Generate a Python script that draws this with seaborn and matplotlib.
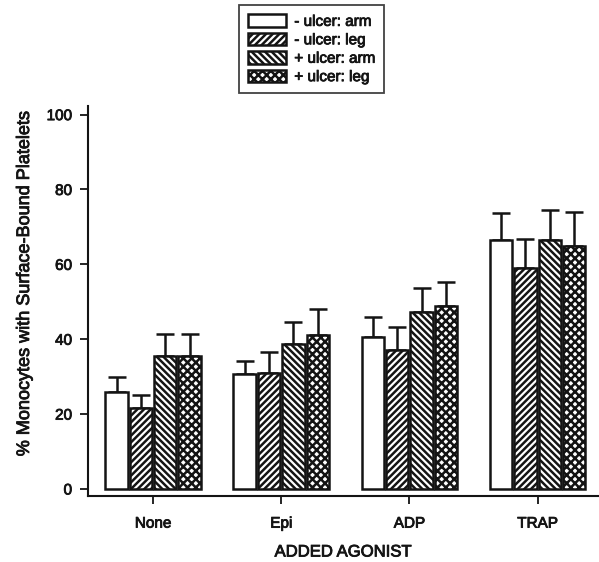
import matplotlib
matplotlib.use("Agg")
import matplotlib.pyplot as plt
import matplotlib.patheffects as pe
import numpy as np
import pandas as pd
import seaborn as sns

agonists = ["None", "Epi", "ADP", "TRAP"]
groups = ["- ulcer: arm", "- ulcer: leg", "+ ulcer: arm", "+ ulcer: leg"]

neg_arm = [26.0, 30.7, 40.7, 66.6]
neg_leg = [21.7, 31.1, 37.2, 58.9]
pos_arm = [35.6, 38.7, 47.3, 66.6]
pos_leg = [35.4, 41.0, 48.9, 65.0]

neg_arm_err = [4.0, 3.5, 5.2, 7.1]
neg_leg_err = [3.4, 5.6, 6.2, 7.9]
pos_arm_err = [5.8, 5.9, 6.4, 7.9]
pos_leg_err = [6.0, 7.1, 6.4, 8.9]

yticks = [0, 20, 40, 60, 80, 100]

series = [neg_arm, neg_leg, pos_arm, pos_leg]
errors = [neg_arm_err, neg_leg_err, pos_arm_err, pos_leg_err]
hatches = ["", "/////", "\\" * 5, "xxxx"]
INK = "#141414"

df = pd.DataFrame({
    "agonist": np.tile(agonists, len(groups)),
    "group": np.repeat(groups, len(agonists)),
    "value": np.concatenate(series),
})

sns.set_style("ticks")
plt.rcParams["font.family"] = ["Liberation Sans", "DejaVu Sans"]
plt.rcParams["hatch.linewidth"] = 1.8
plt.rcParams["hatch.color"] = INK

fig = plt.figure(figsize=(5.99, 5.62), dpi=100)
ax = fig.add_axes([0.147, 0.1166, 0.851, 0.6948])

sns.barplot(
    data=df, x="agonist", y="value", hue="group",
    order=agonists, hue_order=groups,
    palette=["white"] * 4, edgecolor=INK, linewidth=1.8,
    width=0.76, gap=0.08, errorbar=None, ax=ax, zorder=2,
)

# hatch + one-sided (upper) error bars per series
bar_containers = list(ax.containers)
for gi, cont in enumerate(bar_containers):
    xs = []
    for patch in cont:
        patch.set_hatch(hatches[gi])
        xs.append(patch.get_x() + patch.get_width() / 2)
    errs = errors[gi]
    ax.errorbar(xs, series[gi], yerr=[np.zeros(len(errs)), errs], fmt="none",
                ecolor=INK, elinewidth=1.8, capsize=6.5, capthick=1.8,
                zorder=1)

ax.set_ylim(-2.0, 102.3)
ax.set_xlim(-0.507, 3.47)
ax.set_yticks(yticks)
ax.set_yticklabels([str(t) for t in yticks])
ax.tick_params(axis="both", direction="out", length=6, width=1.3,
               color=INK, labelsize=11, labelcolor=INK)
ax.tick_params(axis="y", pad=5.5)
ax.tick_params(axis="x", pad=8.5)
for side in ["left", "bottom"]:
    ax.spines[side].set_linewidth(1.5)
    ax.spines[side].set_color(INK)
sns.despine(ax=ax)

ax.set_ylabel("% Monocytes with Surface-Bound Platelets", fontsize=13, color=INK)
ax.yaxis.set_label_coords(-0.108, 0.544)
ax.set_xlabel("ADDED AGONIST", fontsize=12, color=INK, labelpad=10)

handles, labels = ax.get_legend_handles_labels()
for h, hat in zip(handles, hatches):
    h.set_hatch(hat)
leg = ax.legend(handles, labels, loc="upper center", bbox_to_anchor=(0.520, 0.991),
                bbox_transform=fig.transFigure, borderaxespad=0, frameon=True,
                fancybox=False, edgecolor=INK, fontsize=11, handlelength=2.5,
                handleheight=0.9, labelspacing=0.25, handletextpad=0.55,
                borderpad=0.6)
leg.get_frame().set_linewidth(1.3)

# slightly heavier text, like the printed original
thick = [pe.withStroke(linewidth=0.6, foreground=INK)]
texts = (ax.get_xticklabels() + ax.get_yticklabels() + leg.get_texts()
         + [ax.xaxis.label, ax.yaxis.label])
for t in texts:
    t.set_color(INK)
    t.set_path_effects(thick)

fig.savefig("out.png", dpi=100)
